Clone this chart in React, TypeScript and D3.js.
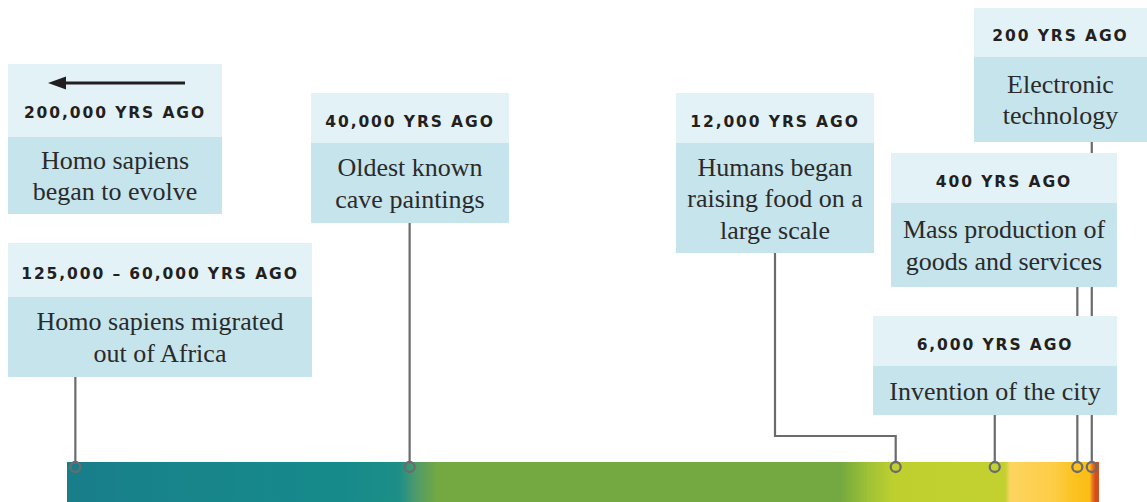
import React from 'react';
import * as d3 from 'd3';

// ---- data ----
const eventYears = [200000, 60000, 40000, 12000, 6000, 400, 200];
const eventLabels = [
  '200,000 YRS AGO',
  '125,000 – 60,000 YRS AGO',
  '40,000 YRS AGO',
  '12,000 YRS AGO',
  '6,000 YRS AGO',
  '400 YRS AGO',
  '200 YRS AGO',
];
const eventDescriptions = [
  ['Homo sapiens', 'began to evolve'],
  ['Homo sapiens migrated', 'out of Africa'],
  ['Oldest known', 'cave paintings'],
  ['Humans began', 'raising food on a', 'large scale'],
  ['Invention of the city'],
  ['Mass production of', 'goods and services'],
  ['Electronic', 'technology'],
];
// piecewise timeline scale (years ago -> fraction of bar)
const scaleBreakYears = [60500, 40000, 12000, 6000, 400, 100];
const scaleBreakFractions = [0, 0.332, 0.803, 0.899, 0.979, 1];
// bar colour stops (years ago)
const barStopYears = [60500, 50000, 44000, 40600, 39700, 38400, 15200, 13700, 12100, 5300, 4950, 2000, 600, 230, 190, 150, 100];
const barStopColors = ['#187e8a', '#17878b', '#168a8b', '#1d8f87', '#4c9a6c', '#74a840', '#74a840', '#9cc036', '#bfd02e', '#c2d12f', '#fdd461', '#fdcd45', '#fcc21f', '#fbbd16', '#e8771f', '#d24e1c', '#d24e1c'];

// ---- layout ----
const W = 1147, H = 502;
const barX0 = 67, barX1 = 1099, barY = 462, barH = 40;
const markerY = 467;
const boxes = [
  { x: 8, y: 64, w: 214, hh: 73, bh: 77, arrow: true },
  { x: 8, y: 243, w: 304, hh: 54, bh: 80 },
  { x: 311, y: 93, w: 198, hh: 50, bh: 80 },
  { x: 676, y: 93, w: 198, hh: 50, bh: 110, elbowY: 436 },
  { x: 873, y: 316, w: 244, hh: 50, bh: 49 },
  { x: 891, y: 153, w: 226, hh: 50, bh: 84 },
  { x: 974, y: 8, w: 173, hh: 49, bh: 85 },
];

const headerFill = '#e3f2f7';
const bodyFill = '#c6e4ec';
const stemColor = '#6b6b6e';
const textColor = '#231f20';

export default function App() {
  const x = d3
    .scaleLinear()
    .domain(scaleBreakYears)
    .range(scaleBreakFractions.map((f) => barX0 + f * (barX1 - barX0)));

  const stops = barStopYears.map((yr, i) => ({
    offset: (x(yr) - barX0) / (barX1 - barX0),
    color: barStopColors[i],
  }));

  const onBar = eventYears.map((yr) => yr <= scaleBreakYears[0]);

  const stemPath = (i: number) => {
    const b = boxes[i];
    const bottom = b.y + b.hh + b.bh;
    const ex = x(eventYears[i]);
    if (b.elbowY !== undefined) {
      const cx = b.x + b.w / 2;
      return d3.line()([
        [cx, bottom],
        [cx, b.elbowY],
        [ex, b.elbowY],
        [ex, markerY - 5],
      ]);
    }
    return d3.line()([
      [ex, bottom],
      [ex, markerY - 5],
    ]);
  };

  const lineGap = 31.5;

  return (
    <svg
      width={W}
      height={H}
      style={{ position: 'absolute', left: 0, top: 0, display: 'block', background: '#fff' }}
    >
      <defs>
        <linearGradient id="barGrad" gradientUnits="userSpaceOnUse" x1={barX0} x2={barX1} y1={0} y2={0}>
          {stops.map((s, i) => (
            <stop key={i} offset={s.offset} stopColor={s.color} />
          ))}
        </linearGradient>
      </defs>

      {/* timeline bar */}
      <rect x={barX0} y={barY} width={barX1 - barX0} height={barH} fill="url(#barGrad)" />

      {/* stems (behind boxes) */}
      {eventYears.map((yr, i) =>
        onBar[i] ? (
          <path key={'s' + i} d={stemPath(i) || ''} fill="none" stroke={stemColor} strokeWidth={2.2} />
        ) : null
      )}

      {/* boxes */}
      {[6, 5, 4, 3, 2, 1, 0].map((i) => {
        const b = boxes[i];
        const lines = eventDescriptions[i];
        const cx = b.x + b.w / 2;
        const bodyTop = b.y + b.hh;
        const bodyMid = bodyTop + b.bh / 2;
        const firstC = bodyMid - ((lines.length - 1) * lineGap) / 2;
        const headerC = b.arrow ? b.y + b.hh - 26 : b.y + b.hh / 2 + 2;
        const ay = b.y + 19;
        return (
          <g key={'b' + i}>
            <rect x={b.x} y={b.y} width={b.w} height={b.hh} fill={headerFill} />
            <rect x={b.x} y={bodyTop} width={b.w} height={b.bh} fill={bodyFill} />
            {b.arrow ? (
              <g>
                <line x1={185} x2={62} y1={ay} y2={ay} stroke={textColor} strokeWidth={3} />
                <path d={`M48,${ay} L66,${ay - 6.5} L66,${ay + 6.5} Z`} fill={textColor} />
              </g>
            ) : null}
            <text
              x={cx}
              y={headerC + 6.5}
              textAnchor="middle"
              fontFamily="'DejaVu Sans', Lato, sans-serif"
              fontWeight={700}
              fontSize={15.5}
              letterSpacing={1.9}
              fill={textColor}
              style={{ fontVariantNumeric: 'oldstyle-nums' }}
            >
              {eventLabels[i]}
            </text>
            {lines.map((ln, j) => (
              <text
                key={j}
                x={cx}
                y={firstC + j * lineGap + 9}
                textAnchor="middle"
                fontFamily="'Liberation Serif', 'DejaVu Serif', serif"
                fontSize={26}
                fill="#2b2a2a"
              >
                {ln}
              </text>
            ))}
          </g>
        );
      })}

      {/* markers */}
      {eventYears.map((yr, i) =>
        onBar[i] ? (
          <circle key={'c' + i} cx={x(yr)} cy={markerY} r={5} fill="none" stroke={stemColor} strokeWidth={2.3} />
        ) : null
      )}
    </svg>
  );
}
